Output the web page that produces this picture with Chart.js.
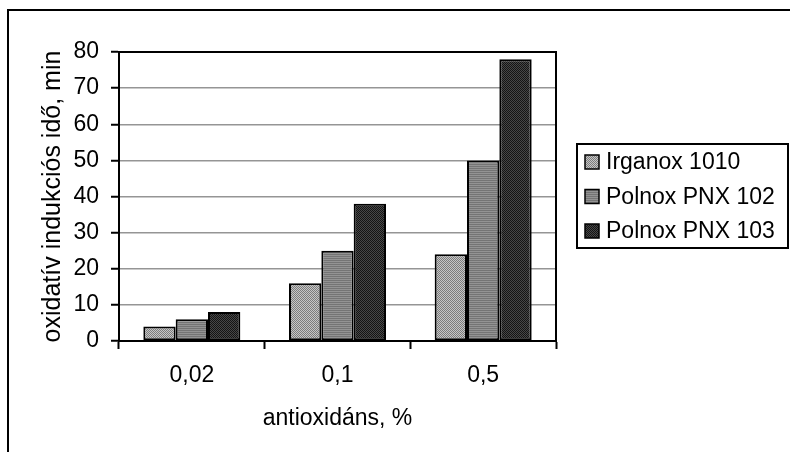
<!DOCTYPE html>
<html>
<head>
<meta charset="utf-8">
<script src="https://cdn.jsdelivr.net/npm/chart.js@4.4.1/dist/chart.umd.min.js"></script>
<style>
  html, body { margin: 0; padding: 0; background: #fff; overflow: hidden; }
  #wrap { position: relative; width: 790px; height: 452px; }
  #frame { position: absolute; left: 7px; top: 9px; width: 900px; height: 600px; border: 2px solid #000; }
  #chart { position: absolute; left: 0; top: 0; }
</style>
</head>
<body>
<div id="wrap">
  <div id="frame"></div>
  <canvas id="chart" width="790" height="452"></canvas>
</div>
<script>
/* bar chart: oxidative induction time vs antioxidant dose */

// ── data ──
const CATEGORIES = ['0,02', '0,1', '0,5'];
const SERIES_NAMES = ['Irganox 1010', 'Polnox PNX 102', 'Polnox PNX 103'];
const IRGANOX_1010 = [4, 16, 24];
const POLNOX_102   = [6, 25, 50];
const POLNOX_103   = [8, 38, 78];
const Y_TICKS = [0, 10, 20, 30, 40, 50, 60, 70, 80];

const FONT = 'Liberation Sans, Arial, sans-serif';

// Excel-like dither fills
function makePattern(cells, w, h) {
  const c = document.createElement('canvas');
  c.width = w; c.height = h;
  const g = c.getContext('2d');
  cells.forEach((col, i) => {
    g.fillStyle = col;
    g.fillRect(i % w, Math.floor(i / w), 1, 1);
  });
  return g.createPattern(c, 'repeat');
}
const ctx0 = document.getElementById('chart').getContext('2d');
const FILLS = [
  makePattern(['#7c7c7c', '#c6c6c6', '#c6c6c6', '#7c7c7c'], 2, 2),
  makePattern(['#747474', '#747474', '#939393', '#939393'], 2, 2),
  makePattern(['#141414', '#474747', '#474747', '#141414'], 2, 2)
];
const SERIES = [IRGANOX_1010, POLNOX_102, POLNOX_103];

// plot-area frame (top + right edges like Excel)
const plotFrame = {
  id: 'plotFrame',
  afterDatasetsDraw(chart) {
    const { ctx, chartArea: a } = chart;
    ctx.save();
    ctx.strokeStyle = '#000';
    ctx.lineWidth = 2;
    ctx.beginPath();
    ctx.moveTo(a.left, a.top);
    ctx.lineTo(a.right, a.top);
    ctx.lineTo(a.right, a.bottom);
    ctx.stroke();
    ctx.restore();
  }
};

// boxed legend on the right
const boxLegend = {
  id: 'boxLegend',
  afterDraw(chart) {
    const { ctx } = chart;
    ctx.save();
    ctx.lineWidth = 2;
    ctx.strokeStyle = '#000';
    ctx.strokeRect(577, 144, 211, 104);
    ctx.font = '23px ' + FONT;
    ctx.textBaseline = 'middle';
    chart.data.datasets.forEach((ds, i) => {
      const cy = 162 + i * 34.5;
      ctx.fillStyle = ds.backgroundColor;
      ctx.fillRect(585, cy - 7, 14, 14);
      ctx.lineWidth = 1.5;
      ctx.strokeRect(585, cy - 7, 14, 14);
      ctx.fillStyle = '#000';
      ctx.fillText(ds.label, 606, cy + 1);
    });
    ctx.restore();
  }
};

new Chart(ctx0, {
  type: 'bar',
  data: {
    labels: CATEGORIES,
    datasets: SERIES_NAMES.map((name, i) => ({
      label: name,
      data: SERIES[i],
      backgroundColor: FILLS[i],
      borderColor: '#000',
      borderWidth: 2,
      borderSkipped: false,
      categoryPercentage: 0.666,
      barPercentage: 1
    }))
  },
  options: {
    responsive: false,
    animation: false,
    devicePixelRatio: 1,
    layout: { padding: { left: 0, top: 52, right: 234, bottom: 0 } },
    plugins: {
      legend: { display: false },
      tooltip: { enabled: false }
    },
    scales: {
      x: {
        afterFit: s => { s.height = 111; },
        grid: { offset: true, drawOnChartArea: false, tickLength: 8, tickColor: '#000', tickWidth: 2 },
        border: { color: '#000', width: 2 },
        ticks: { color: '#000', padding: 13, font: { family: FONT, size: 23 } },
        title: {
          display: true,
          text: 'antioxidáns, %',
          color: '#000',
          font: { family: FONT, size: 23 },
          padding: { top: 0, bottom: 20 }
        }
      },
      y: {
        min: 0,
        max: 80,
        afterFit: s => { s.width = 119; },
        afterBuildTicks: s => { s.ticks = Y_TICKS.map(v => ({ value: v })); },
        grid: { color: '#959595', lineWidth: 1.5, tickLength: 8, tickColor: '#000', tickWidth: 2 },
        border: { color: '#000', width: 2 },
        ticks: { color: '#000', padding: 12, font: { family: FONT, size: 23 } },
        title: {
          display: true,
          text: 'oxidatív indukciós idő, min',
          color: '#000',
          font: { family: FONT, size: 25 },
          padding: { top: 38, bottom: 0 }
        }
      }
    }
  },
  plugins: [plotFrame, boxLegend]
});
</script>
</body>
</html>
